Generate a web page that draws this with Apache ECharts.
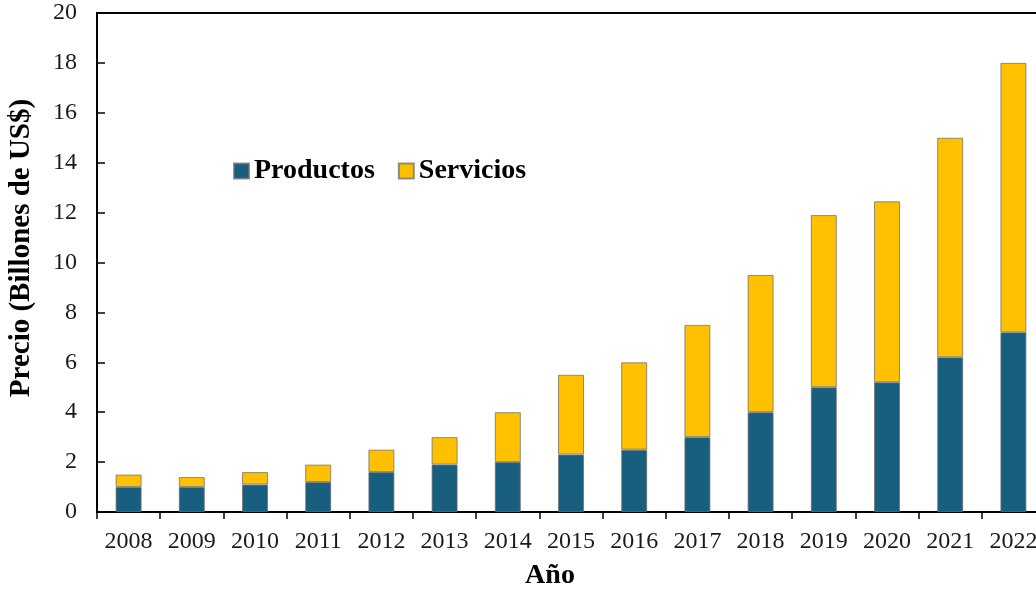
<!DOCTYPE html>
<html>
<head>
<meta charset="utf-8">
<title>Precio por año</title>
<script src="https://cdn.jsdelivr.net/npm/echarts@6/dist/echarts.min.js"></script>
<style>
  html, body { margin: 0; padding: 0; background: #ffffff; overflow: hidden; }
  /* el lienzo es algo más ancho que la ventana: la última barra queda recortada */
  #chart { width: 1060px; height: 592px; }
</style>
</head>
<body>
<div id="chart"></div>
<script>
// Años del eje horizontal
const years = ['2008', '2009', '2010', '2011', '2012', '2013', '2014', '2015',
               '2016', '2017', '2018', '2019', '2020', '2021', '2022'];
// Billones de US$ por segmento (barras apiladas)
const productos = [1.0, 1.0, 1.1, 1.2, 1.6, 1.9, 2.0, 2.3, 2.5, 3.0, 4.0, 5.0, 5.2, 6.2, 7.2];
const servicios = [0.5, 0.4, 0.5, 0.7, 0.9, 1.1, 2.0, 3.2, 3.5, 4.5, 5.5, 6.9, 7.25, 8.8, 10.8];
// Marcas del eje vertical
const yTicks = [0, 2, 4, 6, 8, 10, 12, 14, 16, 18, 20];

const FONT = '"Liberation Serif", "Times New Roman", serif';
const COLOR_PROD = '#175E7F';
const COLOR_SERV = '#FFC000';

const chart = echarts.init(document.getElementById('chart'), null, { renderer: 'canvas' });

const barBorder = { borderColor: 'rgba(110,110,110,0.75)', borderWidth: 1 };

chart.setOption({
  animation: false,
  backgroundColor: '#ffffff',
  grid: {
    left: 97, top: 13, width: 948, height: 499,
    show: true, borderColor: '#000', borderWidth: 2, backgroundColor: 'transparent'
  },
  legend: {
    left: 233, top: 157, padding: 0,
    icon: 'rect', itemWidth: 15, itemHeight: 15, itemGap: 23,
    textStyle: { fontFamily: FONT, fontSize: 28, fontWeight: 'bold', color: '#000' },
    data: ['Productos', 'Servicios']
  },
  xAxis: {
    type: 'category',
    data: years,
    boundaryGap: true,
    axisLine: { lineStyle: { color: '#000', width: 2 } },
    axisTick: { show: true, inside: false, length: 7, lineStyle: { color: '#000', width: 1.5 } },
    axisLabel: { fontFamily: FONT, fontSize: 24, color: '#1a1a1a', margin: 18, interval: 0 },
    splitLine: { show: false }
  },
  yAxis: {
    type: 'value',
    min: yTicks[0], max: yTicks[yTicks.length - 1], interval: yTicks[1] - yTicks[0],
    axisLine: { show: true, lineStyle: { color: '#000', width: 2 } },
    axisTick: { show: true, inside: true, length: 8, lineStyle: { color: '#000', width: 1.5 } },
    axisLabel: { fontFamily: FONT, fontSize: 24, color: '#1a1a1a', margin: 20 },
    splitLine: { show: false }
  },
  series: [
    {
      name: 'Productos', type: 'bar', stack: 'total', data: productos,
      barWidth: 26,
      itemStyle: Object.assign({ color: COLOR_PROD }, barBorder)
    },
    {
      name: 'Servicios', type: 'bar', stack: 'total', data: servicios,
      barWidth: 26,
      itemStyle: Object.assign({ color: COLOR_SERV }, barBorder)
    }
  ],
  graphic: [
    {
      type: 'text', rotation: Math.PI / 2, x: 22, y: 248,
      style: {
        text: 'Precio (Billones de US$)', fontFamily: FONT, fontSize: 29, fontWeight: 'bold',
        fill: '#000', align: 'center', verticalAlign: 'middle'
      }
    },
    {
      type: 'text', x: 550, y: 576,
      style: {
        text: 'Año', fontFamily: FONT, fontSize: 28, fontWeight: 'bold',
        fill: '#000', align: 'center', verticalAlign: 'middle'
      }
    }
  ]
});
</script>
</body>
</html>
